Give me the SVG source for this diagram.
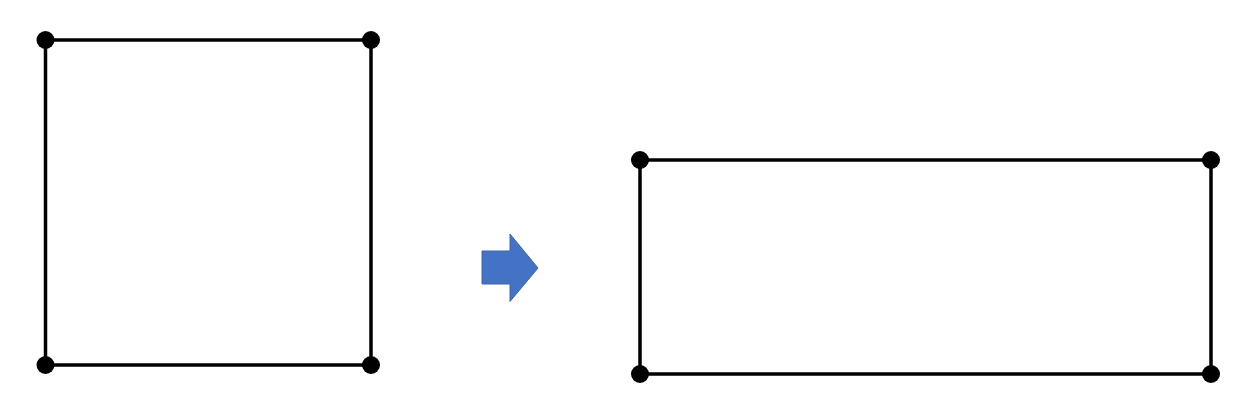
<svg xmlns="http://www.w3.org/2000/svg" width="1260" height="416" viewBox="0 0 1260 416">
<style>
.edge{fill:none;stroke:#000;stroke-width:3.5}
.dot{fill:#000}
.arrow{fill:#4472C4;stroke:#3C64AE;stroke-width:1}
</style>
<rect width="1260" height="416" fill="#fff"/>
<g id="connectors">
<polygon class="edge" points="45.5,40 371,40 371,365 45.5,365"/>
<polygon class="edge" points="640,160 1211,160 1211,374 640,374"/>
</g>
<g id="square">
<circle class="dot" cx="45.5" cy="40" r="9"/>
<circle class="dot" cx="371" cy="40" r="9"/>
<circle class="dot" cx="45.5" cy="365" r="9"/>
<circle class="dot" cx="371" cy="365" r="9"/>
</g>
<g id="rectangle">
<circle class="dot" cx="640" cy="160" r="9"/>
<circle class="dot" cx="1211" cy="160" r="9"/>
<circle class="dot" cx="640" cy="374" r="9"/>
<circle class="dot" cx="1211" cy="374" r="9"/>
</g>
<g id="transform-arrow">
<polygon class="arrow" points="482,251 510,251 510,234 538,268 510,301.5 510,284 482,284"/>
</g>
</svg>
